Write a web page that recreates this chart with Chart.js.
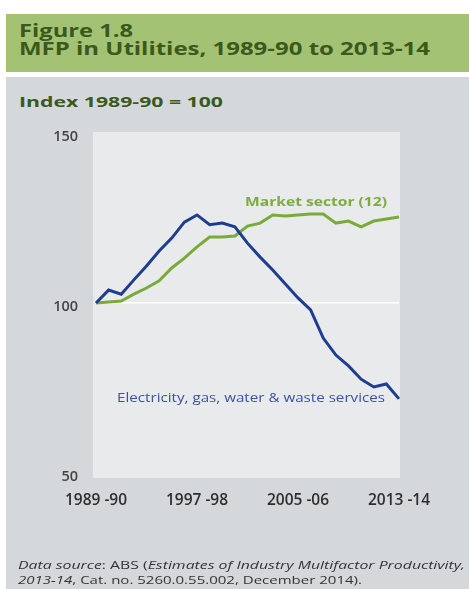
<!DOCTYPE html>
<html>
<head>
<meta charset="utf-8">
<script src="https://cdn.jsdelivr.net/npm/chart.js@4/dist/chart.umd.min.js"></script>
<style>
  html, body { margin: 0; padding: 0; background: #ffffff; }
  body { width: 469px; height: 589px; position: relative; overflow: hidden; font-family: "Open Sans", "DejaVu Sans", sans-serif; }
  #header { position: absolute; left: 6px; top: 14px; width: 463px; height: 58px; background: #a4c274; }
  #panel { position: absolute; left: 6px; top: 77px; width: 463px; height: 512px; background: #d5d8db; }
  .t { position: absolute; white-space: nowrap; line-height: 1; transform-origin: 0 0; }
  #fig { left: 19px; top: 22px; font-size: 17px; font-weight: bold; color: #3a5a1c; }
  #ttl { left: 19px; top: 40px; font-size: 17px; font-weight: bold; color: #3a5a1c; }
  #idx { left: 19px; top: 94px; font-size: 15px; font-weight: bold; color: #3a5a1c; }
  #mkt { left: 245px; top: 195px; font-size: 13px; font-weight: bold; color: #7eaa44; }
  #elec { left: 117px; top: 391px; font-size: 13px; color: #3b52a3; }
  #src1 { left: 18px; top: 559px; font-size: 11.5px; color: #333; }
  #src2 { left: 18px; top: 574px; font-size: 11.5px; color: #333; }
  canvas#c { position: absolute; left: 0; top: 0; }
</style>
</head>
<body>
<div id="header"></div>
<div id="panel"></div>
<div class="t" id="fig">Figure 1.8</div>
<div class="t" id="ttl">MFP in Utilities, 1989-90 to 2013-14</div>
<div class="t" id="idx">Index 1989-90 = 100</div>
<canvas id="c" width="469" height="589"></canvas>
<div class="t" id="mkt">Market sector (12)</div>
<div class="t" id="elec">Electricity, gas, water &amp; waste services</div>
<div class="t" id="src1"><i>Data source</i>: ABS (<i>Estimates of Industry Multifactor Productivity,</i></div>
<div class="t" id="src2"><i>2013-14</i>, Cat. no. 5260.0.55.002, December 2014).</div>
<script>
// Financial years 1989-90 .. 2013-14
const years = ["1989-90","1990-91","1991-92","1992-93","1993-94","1994-95","1995-96","1996-97","1997-98","1998-99","1999-00","2000-01","2001-02","2002-03","2003-04","2004-05","2005-06","2006-07","2007-08","2008-09","2009-10","2010-11","2011-12","2012-13","2013-14"];
const tickLabels = {"1989-90":"1989 -90","1997-98":"1997 -98","2005-06":"2005 -06","2013-14":"2013 -14"};
const utilities = [100, 103.8, 102.6, 106.8, 110.9, 115.3, 119.1, 123.8, 125.9, 123.0, 123.5, 122.4, 117.6, 113.5, 109.7, 105.6, 101.5, 98.0, 89.7, 84.7, 81.5, 77.6, 75.3, 76.2, 71.8];
const marketSector = [100, 100.3, 100.6, 102.6, 104.4, 106.5, 110.3, 113.2, 116.5, 119.4, 119.4, 119.7, 122.6, 123.5, 125.9, 125.6, 125.9, 126.2, 126.2, 123.5, 124.1, 122.4, 124.1, 124.7, 125.3];
const yTicks = [50, 100, 150];

// widen text horizontally to the widths seen in the reference (Verdana-like wide face)
function fitWidth(id, target) {
  const el = document.getElementById(id);
  const w = el.getBoundingClientRect().width;
  el.style.transform = 'scaleX(' + (target / w).toFixed(4) + ')';
}
fitWidth('fig', 114);
fitWidth('ttl', 411);
fitWidth('idx', 204);
fitWidth('mkt', 142);
fitWidth('elec', 268);
fitWidth('src1', 447);
fitWidth('src2', 344);

const plotBg = {
  id: 'plotBg',
  beforeDraw(chart) {
    const a = chart.chartArea, ctx = chart.ctx;
    ctx.save();
    ctx.fillStyle = '#e8eaec';
    ctx.fillRect(a.left - 3, a.top - 1, a.right - a.left + 4, a.bottom - a.top + 6);
    ctx.restore();
  }
};

new Chart(document.getElementById('c'), {
  type: 'line',
  data: {
    labels: years,
    datasets: [
      { label: 'Electricity, gas, water & waste services', data: utilities, borderColor: '#1e3d8f', borderWidth: 3, pointRadius: 0, tension: 0, fill: false },
      { label: 'Market sector (12)', data: marketSector, borderColor: '#7aab3a', borderWidth: 3, pointRadius: 0, tension: 0, fill: false }
    ]
  },
  options: {
    responsive: false,
    animation: false,
    devicePixelRatio: 1,
    layout: { padding: { left: 0, right: 70, top: 133, bottom: 66 } },
    plugins: { legend: { display: false }, tooltip: { enabled: false } },
    scales: {
      x: {
        offset: false,
        grid: { display: false, drawTicks: false },
        border: { display: false },
        afterFit(s) { s.height = 50; },
        ticks: {
          autoSkip: false, maxRotation: 0, padding: 18,
          color: '#2e2e2e', font: { family: 'Open Sans', size: 15.5, weight: '600' },
          callback(v, i) { const y = years[i]; return tickLabels[y] || ''; }
        }
      },
      y: {
        min: 50, max: 150,
        afterFit(s) { s.width = 96; },
        afterBuildTicks(s) { s.ticks = yTicks.map(v => ({ value: v })); },
        grid: { drawTicks: false, color: ctx => (ctx.tick && ctx.tick.value === 100) ? '#ffffff' : 'rgba(0,0,0,0)', lineWidth: 1.5 },
        border: { display: false },
        ticks: { padding: 18, labelOffset: 4, color: '#444', font: { family: 'Open Sans', size: 14.5, weight: '600' } }
      }
    }
  },
  plugins: [plotBg]
});
</script>
</body>
</html>
